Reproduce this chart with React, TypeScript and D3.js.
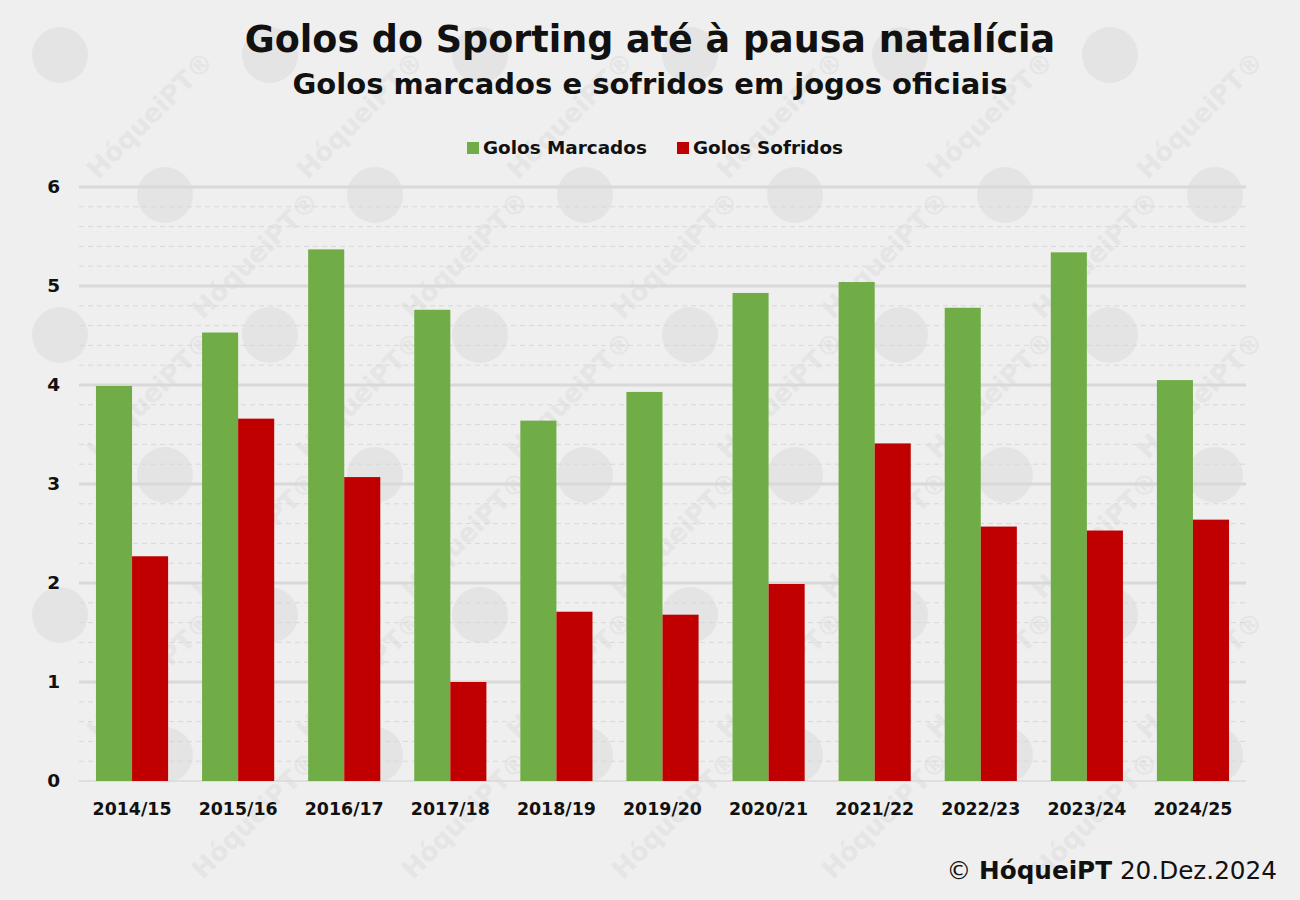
import React, { useEffect, useRef } from "react";
import * as d3 from "d3";

const seasons = [
  "2014/15", "2015/16", "2016/17", "2017/18", "2018/19", "2019/20",
  "2020/21", "2021/22", "2022/23", "2023/24", "2024/25",
];
const golosMarcados = [3.99, 4.53, 5.37, 4.76, 3.64, 3.93, 4.93, 5.04, 4.78, 5.34, 4.05];
const golosSofridos = [2.27, 3.66, 3.07, 1.0, 1.71, 1.68, 1.99, 3.41, 2.57, 2.53, 2.64];
const seriesNames = ["Golos Marcados", "Golos Sofridos"];
const seriesColors = ["#70ad47", "#c00000"];
const yTicks = [0, 1, 2, 3, 4, 5, 6];

const W = 1300;
const H = 900;
const FONT = "'DejaVu Sans', 'Open Sans', sans-serif";

export default function App() {
  const svgRef = useRef<SVGSVGElement>(null);

  useEffect(() => {
    document.body.style.margin = "0";
    if (!svgRef.current) return;
    const svg = d3.select(svgRef.current);
    svg.selectAll("*").remove();

    const margin = { top: 187, right: 54, bottom: 119, left: 79 };
    const innerW = W - margin.left - margin.right;
    const innerH = H - margin.top - margin.bottom;

    svg.append("rect").attr("width", W).attr("height", H).attr("fill", "#efefef");

    // faint watermark (only the pieces that sit fully inside the page)
    const wm = svg.append("g");
    for (let r = 0; r < 7; r++) {
      for (let c = 0; c < 7; c++) {
        const cx = c * 210 + (r % 2) * 105 + 30;
        const cy = r * 140 + 45;
        if (cx + 30 < W - 30 && cy + 10 < H - 30) {
          wm.append("circle").attr("cx", cx + 30).attr("cy", cy + 10).attr("r", 28).attr("fill", "#e4e4e4");
        }
        const tx = cx + 120;
        const ty = cy + 70;
        if (tx > 70 && tx < W - 70 && ty > 70 && ty < H - 70) {
          wm.append("text")
            .attr("transform", `translate(${tx},${ty}) rotate(-45)`)
            .attr("text-anchor", "middle")
            .attr("dy", "0.35em")
            .style("font-family", FONT)
            .style("font-weight", 700)
            .style("font-size", "26px")
            .attr("fill", "#e5e5e5")
            .text("HóqueiPT®");
        }
      }
    }

    const x0 = d3.scaleBand().domain(seasons).range([0, innerW]).paddingInner(0.32).paddingOuter(0.16);
    const x1 = d3.scaleBand().domain(seriesNames).range([0, x0.bandwidth()]);
    const y = d3.scaleLinear().domain([0, 6]).range([innerH, 0]);

    const g = svg.append("g").attr("transform", `translate(${margin.left},${margin.top})`);

    // minor dashed grid
    const minor = d3.range(0, 6.001, 0.2).filter((v) => Math.abs(v - Math.round(v)) > 0.01);
    g.selectAll(".minor")
      .data(minor)
      .enter()
      .append("line")
      .attr("x1", 0)
      .attr("x2", innerW)
      .attr("y1", (d) => y(d))
      .attr("y2", (d) => y(d))
      .attr("stroke", "#d8d8d8")
      .attr("stroke-width", 1)
      .attr("stroke-dasharray", "5,4");

    // major grid
    g.selectAll(".major")
      .data(yTicks)
      .enter()
      .append("line")
      .attr("x1", 0)
      .attr("x2", innerW)
      .attr("y1", (d) => y(d))
      .attr("y2", (d) => y(d))
      .attr("stroke", "#d9d9d9")
      .attr("stroke-width", (d) => (d === 0 ? 1.5 : 3));

    // y labels
    g.selectAll(".ylab")
      .data(yTicks)
      .enter()
      .append("text")
      .attr("x", -19)
      .attr("y", (d) => y(d))
      .attr("dy", "0.35em")
      .attr("text-anchor", "end")
      .style("font-family", FONT)
      .style("font-weight", 700)
      .style("font-size", "18.5px")
      .attr("fill", "#111")
      .text((d) => d);

    const rows = seasons.map((s, i) => ({ s, vals: [golosMarcados[i], golosSofridos[i]] }));

    const groups = g
      .selectAll(".grp")
      .data(rows)
      .enter()
      .append("g")
      .attr("transform", (d) => `translate(${x0(d.s)},0)`);

    groups
      .selectAll("rect")
      .data((d) => d.vals.map((v, k) => ({ v, k })))
      .enter()
      .append("rect")
      .attr("x", (d) => x1(seriesNames[d.k])!)
      .attr("width", x1.bandwidth())
      .attr("y", (d) => y(d.v))
      .attr("height", (d) => innerH - y(d.v))
      .attr("fill", (d) => seriesColors[d.k]);

    // x labels
    g.selectAll(".xlab")
      .data(seasons)
      .enter()
      .append("text")
      .attr("x", (d) => x0(d)! + x0.bandwidth() / 2)
      .attr("y", innerH + 34)
      .attr("text-anchor", "middle")
      .style("font-family", FONT)
      .style("font-weight", 700)
      .style("font-size", "17.4px")
      .attr("fill", "#111")
      .text((d) => d);

    // title
    svg.append("text")
      .attr("x", W / 2)
      .attr("y", 52)
      .attr("text-anchor", "middle")
      .style("font-family", FONT)
      .style("font-weight", 700)
      .style("font-size", "36.5px")
      .attr("fill", "#111")
      .text("Golos do Sporting até à pausa natalícia");

    svg.append("text")
      .attr("x", W / 2)
      .attr("y", 94)
      .attr("text-anchor", "middle")
      .style("font-family", FONT)
      .style("font-weight", 700)
      .style("font-size", "29px")
      .attr("fill", "#111")
      .text("Golos marcados e sofridos em jogos oficiais");

    // legend
    const legend = svg.append("g").attr("transform", "translate(467,148)");
    const legendX = [0, 210];
    seriesNames.forEach((name, i) => {
      const lg = legend.append("g").attr("transform", `translate(${legendX[i]},0)`);
      lg.append("rect").attr("x", 0).attr("y", -6).attr("width", 12).attr("height", 12).attr("fill", seriesColors[i]);
      lg.append("text")
        .attr("x", 16)
        .attr("dy", "0.35em")
        .style("font-family", FONT)
        .style("font-weight", 700)
        .style("font-size", "18.4px")
        .attr("fill", "#111")
        .text(name);
    });

    // footer
    const foot = svg.append("text")
      .attr("x", 1277)
      .attr("y", 879)
      .attr("text-anchor", "end")
      .style("font-family", FONT)
      .style("font-size", "24.7px")
      .attr("fill", "#111");
    foot.append("tspan").text("© ");
    foot.append("tspan").style("font-weight", 700).text("HóqueiPT");
    foot.append("tspan").text(" 20.Dez.2024");
  }, []);

  return <svg ref={svgRef} width={W} height={H} style={{ display: "block" }} />;
}
